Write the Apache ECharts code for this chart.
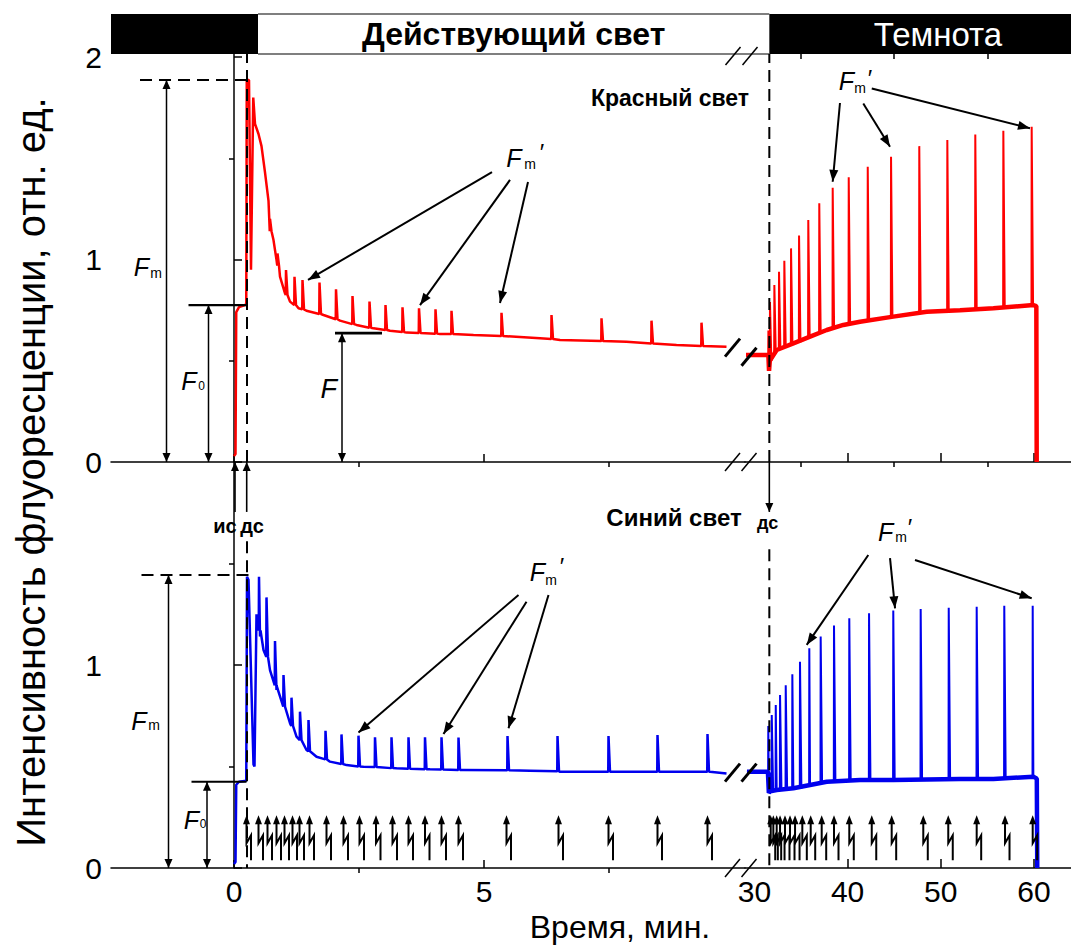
<!DOCTYPE html>
<html><head><meta charset="utf-8">
<script src="https://cdn.jsdelivr.net/npm/echarts@6/dist/echarts.min.js"></script>
<style>html,body{margin:0;padding:0;background:#fff}#c{width:1071px;height:946px}</style>
</head><body><div id="c"></div>
<script>
// ---------------- DATA (time, min ; fluorescence, rel. units) ----------------
// Red light, before break (baseline / induction curve)
const redLeftBase = [[0.00,0.03],[0.03,0.04],[0.045,0.74],[0.10,0.765],[0.22,0.775],[0.245,0.78],
  [0.255,1.886],[0.30,1.886],[0.34,0.95],[0.385,1.80],[0.42,1.67],[0.49,1.62],[0.55,1.56],[0.62,1.43],
  [0.69,1.29],[0.79,1.096],[0.85,0.998],[0.92,0.915],[1.02,0.833],[1.12,0.792],[1.29,0.759],[1.45,0.747],
  [1.79,0.726],[2.12,0.698],[2.45,0.677],[2.79,0.66],[3.12,0.648],[3.45,0.639],[4.12,0.632],[4.79,0.627],
  [6.12,0.611],[6.52,0.602],[7.85,0.594],[8.85,0.578],[9.85,0.569]];
// saturating flashes during red light: [time, top, base]
const redLeftSpikes = [[0.72,1.20,1.14],[0.87,1.03,0.97],[1.04,0.948,0.825],[1.21,0.915,0.775],[1.37,0.899,0.754],
  [1.71,0.886,0.731],[2.04,0.853,0.705],[2.37,0.82,0.681],[2.71,0.792,0.663],[3.03,0.775,0.652],[3.37,0.764,0.642],
  [3.70,0.759,0.637],[4.03,0.754,0.634],[4.35,0.747,0.632],[5.35,0.737,0.622],[6.35,0.726,0.607],[7.35,0.71,0.597],
  [8.35,0.698,0.585],[9.35,0.688,0.573]];
// Red, after break (end of light + darkness)
const redRightBase = [[29.1,0.528],[31.5,0.528],[31.57,0.45],[31.65,0.50],[32.39,0.553],[34.18,0.586],[35.97,0.619],
  [37.76,0.652],[39.54,0.677],[41.33,0.693],[44.9,0.718],[48.49,0.742],[52.06,0.75],[55.64,0.759],[59.93,0.775],
  [60.25,0.77],[60.29,0.0]];
const redRightSpikes = [[31.50,0.65,0.53],[31.67,0.79,0.50],[32.14,0.874,0.54],[32.64,0.94,0.557],[33.21,0.994,0.57],
  [33.93,1.055,0.582],[34.79,1.118,0.595],[35.78,1.195,0.615],[36.96,1.278,0.637],[38.40,1.355,0.66],[40.12,1.406,0.68],
  [42.16,1.458,0.698],[44.66,1.508,0.716],[47.69,1.56,0.737],[50.70,1.59,0.747],[53.70,1.618,0.754],[56.71,1.636,0.762],
  [59.75,1.656,0.774]];
// Blue light, before break
const blueLeftBase = [[0.00,0.02],[0.03,0.03],[0.045,0.41],[0.10,0.425],[0.245,0.43],[0.26,1.435],[0.29,1.42],
  [0.39,0.51],[0.41,0.50],[0.45,1.25],[0.47,1.19],[0.52,1.14],[0.59,1.074],[0.72,0.975],[0.85,0.877],[0.99,0.795],
  [1.12,0.713],[1.25,0.647],[1.45,0.581],[1.65,0.548],[1.92,0.524],[2.25,0.507],[2.59,0.499],[3.25,0.491],
  [3.92,0.486],[4.59,0.483],[5.92,0.479],[6.52,0.474],[9.52,0.474],[9.85,0.466]];
const blueLeftSpikes = [[0.50,1.435,1.17],[0.65,1.333,1.04],[0.82,1.118,0.90],[0.99,0.951,0.795],[1.15,0.839,0.70],
  [1.32,0.77,0.63],[1.49,0.729,0.575],[1.83,0.676,0.535],[2.15,0.658,0.512],[2.49,0.652,0.50],[2.82,0.644,0.497],
  [3.15,0.644,0.492],[3.49,0.644,0.489],[3.82,0.644,0.487],[4.15,0.644,0.485],[4.49,0.643,0.483],[5.47,0.65,0.481],
  [6.47,0.65,0.476],[7.49,0.65,0.474],[8.47,0.655,0.474],[9.47,0.66,0.474]];
const blueRightBase = [[29.2,0.474],[31.45,0.474],[31.55,0.37],[31.7,0.378],[32.39,0.384],[34.18,0.393],[35.97,0.409],
  [37.76,0.425],[41.33,0.433],[44.9,0.433],[48.5,0.436],[52.06,0.438],[55.64,0.438],[59.93,0.45],[60.3,0.44],[60.35,0.0]];
const blueRightSpikes = [[31.49,0.70,0.47],[31.86,0.754,0.38],[32.29,0.803,0.383],[32.75,0.852,0.386],[33.36,0.90,0.389],
  [34.07,0.954,0.391],[34.89,1.016,0.396],[35.89,1.082,0.408],[37.11,1.14,0.42],[38.54,1.194,0.428],[40.18,1.23,0.431],
  [42.30,1.255,0.433],[44.90,1.268,0.433],[47.84,1.276,0.435],[50.85,1.282,0.437],[53.85,1.287,0.438],
  [56.81,1.292,0.44],[59.86,1.292,0.45]];
// flash markers (bottom panel)
const flashLeft = [0.25,0.49,0.67,0.85,1.01,1.17,1.31,1.51,1.85,2.19,2.51,2.84,3.17,3.49,3.82,4.15,4.49,5.45,6.49,7.49,8.47,9.47];
const flashRight = [31.75,32.03,32.39,32.75,33.28,33.82,34.36,35.14,36.04,37.22,38.54,40.18,42.59,44.73,48.12,50.80,53.85,56.89,59.86];
// axes
const xRangeLeft = [-2.46, 10.22], xRangeRight = [28.99, 63.97];
const yRangeTop = [0, 2.015], yRangeBottom = [0, 2];
const xTicksLeftMajor = [0,5], xTicksLeftMinor = [2.5,7.5];
const xTicksRightMajor = [40,50,60], xTicksRightMinor = [35,45,55];
const xLabelsLeft = [0,5], xLabelsRight = [30,40,50,60];
const yTicksMajor = [0,1,2], yTicksMinor = [0.5,1.5];
const yLabelsTop = [0,1,2], yLabelsBottom = [0,1];
const headerLight = 'Действующий свет', headerDark = 'Темнота';
const xTitle = 'Время, мин.', yTitle = 'Интенсивность флуоресценции, отн. ед.';

// ---------------- helpers ----------------
const FONT = "'Liberation Sans', Arial, Helvetica, sans-serif";
const RED = '#ff0000', BLUE = '#0000ee';
function withSpikes(base, spikes, rise, fall) {
  const pts = base.map(p => [p[0], p[1]]);
  spikes.forEach(s => { pts.push([s[0] - rise, s[2]], [s[0], s[1]], [s[0] + fall, s[2]]); });
  pts.sort((a, b) => a[0] - b[0]);
  return pts;
}
const chart = echarts.init(document.getElementById('c'), null, {renderer: 'svg', width: 1071, height: 946});
const grids = [
  {left: 111, top: 54, width: 634, height: 408},
  {left: 745, top: 54, width: 326, height: 408},
  {left: 111, top: 462, width: 634, height: 406},
  {left: 745, top: 462, width: 326, height: 406}
];
const AX = {color: '#000', width: 1.5};
function xAx(g, range, ticks, len, labels, line) {
  return {type: 'value', gridIndex: g, min: range[0], max: range[1],
    axisLine: {show: line, lineStyle: AX}, splitLine: {show: false},
    axisTick: {show: true, inside: true, length: len, customValues: ticks, lineStyle: AX},
    axisLabel: labels ? {show: true, customValues: labels, fontSize: 30, color: '#000', fontFamily: FONT, margin: 8}
                      : {show: false}};
}
function yAx(g, range, ticks, len, labels, line, show) {
  return {type: 'value', gridIndex: g, min: range[0], max: range[1], show: show,
    axisLine: {show: line, lineStyle: AX}, splitLine: {show: false},
    axisTick: {show: true, inside: true, length: len, customValues: ticks, lineStyle: AX},
    axisLabel: labels ? {show: true, customValues: labels, fontSize: 30, color: '#000', fontFamily: FONT, margin: 9}
                      : {show: false}};
}
function lineSeries(g, data, color, w) {
  return {type: 'line', xAxisIndex: g, yAxisIndex: g, data: data, symbol: 'none', showSymbol: false,
    lineStyle: {color: color, width: w}, itemStyle: {color: color}, animation: false, silent: true, z: 3};
}
function flashSeries(g, times) {
  return {type: 'custom', xAxisIndex: g, yAxisIndex: g, data: times.map(t => [t, 0.26]), animation: false, silent: true,
    z: 4, clip: false,
    renderItem: function (params, api) {
      const p = api.coord([api.value(0), api.value(1)]);
      const x = p[0], y = p[1];
      return {type: 'group', children: [
        {type: 'polygon', shape: {points: [[x, y], [x - 3.5, y + 9], [x + 3.5, y + 9]]}, style: {fill: '#000'}},
        {type: 'polyline', shape: {points: [[x, y + 7], [x, y + 28], [x + 4.5, y + 20], [x + 4.5, y + 45]]},
          style: {stroke: '#000', lineWidth: 2, fill: null}}
      ]};
    }};
}

chart.setOption({
  animation: false,
  backgroundColor: '#fff',
  grid: grids,
  xAxis: [
    xAx(0, xRangeLeft, xTicksLeftMajor, 8, null, true),
    xAx(1, xRangeRight, xTicksRightMajor, 9, null, true),
    xAx(2, xRangeLeft, xTicksLeftMajor, 8, xLabelsLeft, true),
    xAx(3, xRangeRight, xTicksRightMajor, 9, xLabelsRight, true),
    xAx(0, xRangeLeft, xTicksLeftMinor, 5, null, false),
    xAx(1, xRangeRight, xTicksRightMinor, 5, null, false),
    xAx(2, xRangeLeft, xTicksLeftMinor, 5, null, false),
    xAx(3, xRangeRight, xTicksRightMinor, 5, null, false)
  ],
  yAxis: [
    yAx(0, yRangeTop, yTicksMajor, 8, yLabelsTop, true, true),
    yAx(1, yRangeTop, [], 0, null, false, false),
    yAx(2, yRangeBottom, [0, 1], 8, yLabelsBottom, true, true),
    yAx(3, yRangeBottom, [], 0, null, false, false),
    yAx(0, yRangeTop, yTicksMinor, 5, null, false, true),
    yAx(2, yRangeBottom, yTicksMinor, 5, null, false, true)
  ],
  series: [
    lineSeries(0, withSpikes(redLeftBase, redLeftSpikes, 0.005, 0.03), RED, 2.5),
    lineSeries(1, redRightBase, RED, 4.5),
    lineSeries(1, withSpikes(redRightBase, redRightSpikes, 0.02, 0.15), RED, 2),
    lineSeries(2, withSpikes(blueLeftBase, blueLeftSpikes, 0.005, 0.03), BLUE, 2.5),
    lineSeries(3, blueRightBase, BLUE, 4.5),
    lineSeries(3, withSpikes(blueRightBase, blueRightSpikes, 0.02, 0.15), BLUE, 2),
    flashSeries(2, flashLeft),
    flashSeries(3, flashRight)
  ]
});

// ---------------- annotations (positions in data units, converted by the axes) ----------------
const G = [];
function P(g, t, y) { return chart.convertToPixel({xAxisIndex: g, yAxisIndex: g}, [t, y]); }
function seg(a, b, w, dash) {
  G.push({type: 'line', z: 20, shape: {x1: a[0], y1: a[1], x2: b[0], y2: b[1]},
    style: {stroke: '#000', lineWidth: w, lineDash: dash || null}});
}
function head(from, to, L, W) {
  const dx = to[0] - from[0], dy = to[1] - from[1], d = Math.hypot(dx, dy);
  const ux = dx / d, uy = dy / d, bx = to[0] - ux * L, by = to[1] - uy * L;
  G.push({type: 'polygon', z: 21, shape: {points: [[to[0], to[1]], [bx - uy * W, by + ux * W], [bx + uy * W, by - ux * W]]},
    style: {fill: '#000'}});
}
function arrow(a, b, w, L, W, both) { seg(a, b, w); head(a, b, L, W); if (both) head(b, a, L, W); }
function txt(p, s, size, opt) {
  opt = opt || {};
  G.push({type: 'text', z: 22, x: p[0], y: p[1], rotation: opt.rot || 0,
    style: {text: s, fontSize: size, fontFamily: FONT, fontWeight: opt.bold ? 'bold' : 'normal',
      fontStyle: opt.italic ? 'italic' : 'normal', fill: opt.color || '#000', align: 'center', verticalAlign: 'middle'}});
}
function fLabel(pF, pSub, sub, pPrime) {
  txt(pF, 'F', 25, {italic: true});
  txt([pSub[0] + 2, pSub[1]], sub, sub === 'm' ? 14 : 12);
  if (pPrime) txt([pPrime[0] + 1, pPrime[1]], '′', 24);
}
function brk(c, w) { seg([c[0] - 7.5, c[1] + 9], [c[0] + 7.5, c[1] - 9], w); }

// header band
const hx0 = P(0, xRangeLeft[0], 0)[0], hx1 = P(0, 0.48, 0)[0], hx2 = P(1, 31.6, 0)[0];
const hTop = 14, hBot = P(0, 0, yRangeTop[1])[1];
G.push({type: 'rect', z: 15, shape: {x: hx0, y: hTop, width: hx1 - hx0, height: hBot - hTop}, style: {fill: '#000'}});
G.push({type: 'rect', z: 15, shape: {x: hx2, y: hTop, width: 1071 - hx2 + 2, height: hBot - hTop}, style: {fill: '#000'}});
seg([hx1, hTop], [hx2, hTop], 1.2); seg([hx1, hBot], [hx2, hBot], 1.2);
txt([(hx1 + hx2) / 2, 34], headerLight, 32, {bold: true});
txt([P(1, 49.7, 0)[0], 34], headerDark, 33, {color: '#fff'});

// dashed verticals (start/end of actinic light)
seg(P(0, 0.26, 0), P(0, 0.26, yRangeTop[1]), 2, [12, 7]);
seg(P(1, 31.6, 0), P(1, 31.6, yRangeTop[1]), 2, [12, 7]);
seg(P(2, 0.26, 1.61), P(2, 0.26, 0), 2, [12, 7]);
seg(P(3, 31.6, 1.57), P(3, 31.6, 0), 2, [12, 7]);

// top panel: Fm, F0, F
seg(P(0, -1.88, 1.886), P(0, 0.38, 1.886), 2, [12, 7]);
arrow(P(0, -1.35, 0), P(0, -1.35, 1.886), 1.5, 9, 4, true);
fLabel(P(0, -1.85, 0.965), P(0, -1.60, 0.931), 'm');
seg(P(0, -0.91, 0.775), P(0, 0.25, 0.775), 2.2);
arrow(P(0, -0.51, 0), P(0, -0.51, 0.775), 1.5, 9, 4, true);
fLabel(P(0, -0.90, 0.40), P(0, -0.69, 0.375), '0');
seg(P(0, 2.02, 0.636), P(0, 2.96, 0.636), 2.8);
arrow(P(0, 2.16, 0), P(0, 2.16, 0.636), 1.5, 9, 4, true);
txt(P(0, 1.894, 0.36), 'F', 27, {italic: true});
// Fm' arrows (top)
fLabel(P(0, 5.60, 1.501), P(0, 5.88, 1.474), 'm', P(0, 6.14, 1.531));
arrow(P(0, 5.16, 1.432), P(0, 1.48, 0.899), 2, 12, 4.5);
arrow(P(0, 5.52, 1.393), P(0, 3.72, 0.775), 2, 12, 4.5);
arrow(P(0, 5.88, 1.383), P(0, 5.32, 0.785), 2, 12, 4.5);
fLabel(P(1, 39.88, 1.881), P(1, 41.12, 1.847), 'm', P(1, 42.30, 1.896));
arrow(P(1, 39.18, 1.773), P(1, 38.40, 1.384), 2, 12, 4.5);
arrow(P(1, 41.68, 1.771), P(1, 44.55, 1.557), 2, 12, 4.5);
arrow(P(1, 42.59, 1.845), P(1, 59.57, 1.648), 2, 12, 4.5);
txt(P(0, 8.72, 1.797), 'Красный свет', 23, {bold: true});

// markers between panels
arrow(P(2, 0.02, 1.754), P(0, 0.02, 0), 1.6, 9, 4);
arrow(P(2, 0.254, 1.754), P(0, 0.254, 0), 1.6, 9, 4);
txt(P(2, -0.18, 1.685), 'ис', 20, {bold: true});
txt(P(2, 0.36, 1.685), 'дс', 20, {bold: true});
arrow(P(1, 31.6, 0), P(3, 31.6, 1.754), 1.6, 9, 4);
txt(P(3, 31.41, 1.70), 'дс', 18, {bold: true});
txt(P(2, 8.8, 1.729), 'Синий свет', 24, {bold: true});

// bottom panel: Fm, F0
seg(P(2, -1.85, 1.443), P(2, 0.40, 1.443), 2, [12, 7]);
arrow(P(2, -1.31, 0), P(2, -1.31, 1.443), 1.5, 9, 4, true);
fLabel(P(2, -1.90, 0.722), P(2, -1.64, 0.704), 'm');
seg(P(2, -0.85, 0.425), P(2, 0.25, 0.425), 2.2);
arrow(P(2, -0.54, 0), P(2, -0.54, 0.425), 1.5, 9, 4, true);
fLabel(P(2, -0.85, 0.236), P(2, -0.66, 0.219), '0');
fLabel(P(2, 6.07, 1.458), P(2, 6.30, 1.419), 'm', P(2, 6.54, 1.483));
arrow(P(2, 5.69, 1.345), P(2, 2.49, 0.667), 2, 12, 4.5);
arrow(P(2, 5.85, 1.312), P(2, 4.19, 0.66), 2, 12, 4.5);
arrow(P(2, 6.29, 1.345), P(2, 5.49, 0.688), 2, 12, 4.5);
fLabel(P(3, 44.07, 1.655), P(3, 45.52, 1.630), 'm', P(3, 46.59, 1.675));
arrow(P(3, 42.22, 1.542), P(3, 35.61, 1.099), 2, 12, 4.5);
arrow(P(3, 44.55, 1.526), P(3, 45.09, 1.279), 2, 12, 4.5);
arrow(P(3, 47.23, 1.517), P(3, 59.75, 1.329), 2, 12, 4.5);

// axis breaks
brk(P(0, 9.98, 2.005), 1.5); brk(P(1, 29.53, 2.005), 1.5);
brk(P(0, 9.97, 0.565), 3); brk(P(1, 29.42, 0.52), 3);
brk(P(0, 9.97, 0), 1.5); brk(P(1, 29.42, 0), 1.5);
brk(P(2, 9.97, 0.47), 3); brk(P(3, 29.42, 0.47), 3);
brk(P(2, 9.97, 0), 1.5); brk(P(3, 29.42, 0), 1.5);

// axis titles
txt([620, 927], xTitle, 32);
txt([31, 472], yTitle, 40, {rot: Math.PI / 2});

chart.setOption({graphic: G});
</script></body></html>
